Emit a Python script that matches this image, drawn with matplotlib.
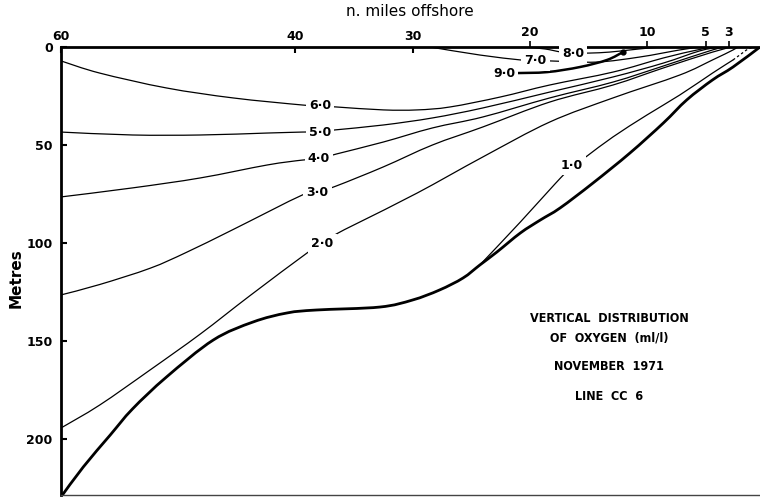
import matplotlib
matplotlib.use("Agg")
import matplotlib.pyplot as plt
from matplotlib.path import Path
from matplotlib.patches import PathPatch

# Section axes: distance offshore (n. miles) and depth (metres)
mile_ticks = [60, 40, 30, 20, 10, 5, 3]
depth_ticks = [0, 50, 100, 150, 200]

# Sea floor profile along the line
bottom_miles = [60.0, 58.1, 55.8, 53.9, 51.0, 47.0, 43.6, 40.7, 38.2, 32.8, 30.0,
                27.7, 25.7, 24.25, 22.8, 20.8, 19.1, 17.4, 14.6, 11.45, 8.6, 6.6, 4.4,
                2.65, 0.35]
bottom_depth = [229.6, 214.3, 198.0, 184.7, 168.4, 149.5, 140.3, 135.7, 134.2, 132.7,
                129.1, 124.0, 117.9, 111.2, 104.6, 94.9, 88.3, 82.1, 69.4, 54.1, 38.8,
                27.0, 16.8, 10.2, 0.0]

# Oxygen isopleths (ml/l)
o2_60_miles = [60.0, 56.7, 51.0, 45.3, 39.4, 37.9, 36.5, 32.5, 29.6, 26.8, 22.5, 18.3, 12.9, 8.6, 5.7, 4.4]
o2_60_depth = [7.1, 13.3, 20.9, 26.0, 29.6, 30.1, 30.6, 32.1, 32.1, 30.6, 25.5, 19.4, 12.8, 5.6, 1.5, 0.0]

o2_50_miles = [60.0, 53.9, 48.1, 42.4, 39.4, 37.9, 36.6, 32.5, 28.3, 24.0, 18.3, 12.9, 8.6, 5.5, 3.8]
o2_50_depth = [43.4, 44.9, 44.9, 43.9, 43.4, 43.2, 42.3, 39.8, 36.2, 31.1, 23.0, 15.3, 8.2, 2.0, 0.0]

o2_40_miles = [60.0, 53.9, 48.1, 42.4, 39.4, 38.0, 36.5, 32.5, 28.3, 24.0, 18.3, 12.9, 8.6, 4.4, 3.2]
o2_40_depth = [76.5, 71.9, 66.8, 60.2, 57.7, 57.1, 54.6, 48.5, 41.3, 35.7, 26.0, 17.9, 9.7, 1.5, 0.0]

o2_30_miles = [60.0, 56.7, 52.4, 49.3, 45.3, 39.4, 38.1, 36.5, 32.5, 28.3, 24.0, 18.3, 12.9, 8.6, 4.4, 2.75]
o2_30_depth = [126.5, 121.2, 112.9, 104.8, 93.1, 75.5, 74.0, 70.9, 61.2, 50.0, 40.8, 28.1, 19.4, 10.7, 2.6, 0.0]

o2_20_miles = [60.0, 56.7, 52.4, 48.1, 43.9, 39.0, 37.7, 36.5, 34.5, 29.6, 24.0, 18.3, 12.9, 7.2, 4.4, 2.65, 2.25]
o2_20_depth = [194.4, 182.7, 164.8, 146.4, 127.0, 105.1, 100.2, 95.4, 89.3, 74.5, 56.1, 38.3, 26.0, 14.3, 6.6, 1.5, 0.0]

o2_10_miles = [24.25, 20.8, 17.85, 16.5, 15.1, 12.9, 10.0, 7.2, 4.4, 2.65]
o2_10_depth = [111.2, 89.3, 69.9, 61.7, 55.6, 45.9, 34.7, 24.5, 13.3, 6.6]
o2_10_shore_miles = [2.65, 1.5, 0.95]
o2_10_shore_depth = [6.6, 1.5, 0.0]

o2_70_miles = [28.5, 24.25, 20.8, 19.5, 18.3, 14.3, 10.6, 7.2, 5.5]
o2_70_depth = [0.0, 4.1, 6.6, 7.1, 7.1, 7.7, 5.1, 1.5, 0.0]

o2_80_miles = [20.4, 18.7, 17.3, 16.3, 14.9, 13.2, 11.45, 9.8, 8.5]
o2_80_depth = [0.0, 1.0, 2.6, 3.1, 3.1, 2.6, 1.5, 0.5, 0.0]

o2_90_miles = [21.1, 18.5, 15.7, 13.4, 12.05]
o2_90_depth = [13.3, 12.8, 10.2, 6.6, 2.6]

iso_labels = ["6·0", "5·0", "4·0", "3·0", "2·0", "1·0", "7·0", "8·0", "9·0"]
iso_label_miles = [37.9, 37.9, 38.0, 38.1, 37.7, 16.4, 19.5, 16.3, 22.2]
iso_label_depth = [30.1, 43.4, 57.1, 74.0, 100.2, 60.5, 7.1, 3.1, 13.3]

title_lines = ["VERTICAL  DISTRIBUTION", "OF  OXYGEN  (ml/l)", "NOVEMBER  1971", "LINE  CC  6"]


def smooth_path(xs, ys):
    """Catmull-Rom curve through the given points, as cubic Bezier path segments."""
    pts = list(zip(xs, ys))
    n = len(pts)
    verts = [pts[0]]
    codes = [Path.MOVETO]
    for i in range(n - 1):
        p0 = pts[i - 1] if i > 0 else pts[i]
        p1 = pts[i]
        p2 = pts[i + 1]
        p3 = pts[i + 2] if i + 2 < n else pts[i + 1]
        c1 = (p1[0] + (p2[0] - p0[0]) / 6.0, p1[1] + (p2[1] - p0[1]) / 6.0)
        c2 = (p2[0] - (p3[0] - p1[0]) / 6.0, p2[1] - (p3[1] - p1[1]) / 6.0)
        verts += [c1, c2, p2]
        codes += [Path.CURVE4] * 3
    return Path(verts, codes)


def draw_curve(ax, xs, ys, **kw):
    patch = PathPatch(smooth_path(xs, ys), fill=False, capstyle="round",
                      joinstyle="round", **kw)
    ax.add_patch(patch)
    return patch


fig = plt.figure(figsize=(7.6, 4.97), dpi=100)
ax = fig.add_axes([61 / 760, 2 / 497, 699 / 760, 448 / 497])
ax.set_xlim(60, 0.35)
ax.set_ylim(228.6, 0)

for xs, ys in [(o2_60_miles, o2_60_depth), (o2_50_miles, o2_50_depth),
               (o2_40_miles, o2_40_depth), (o2_30_miles, o2_30_depth),
               (o2_20_miles, o2_20_depth), (o2_10_miles, o2_10_depth),
               (o2_70_miles, o2_70_depth), (o2_80_miles, o2_80_depth)]:
    draw_curve(ax, xs, ys, edgecolor="black", lw=0.9)
ax.plot(o2_10_shore_miles, o2_10_shore_depth, color="black", lw=0.9, ls=(0, (2, 2)))
draw_curve(ax, o2_90_miles, o2_90_depth, edgecolor="black", lw=1.8)
ax.plot(o2_90_miles[-1:], o2_90_depth[-1:], marker="o", ms=3.5, color="black")
draw_curve(ax, bottom_miles, bottom_depth, edgecolor="black", lw=2.0)

for txt, xm, yd in zip(iso_labels, iso_label_miles, iso_label_depth):
    ax.text(xm, yd, txt, ha="center", va="center", fontsize=9, fontweight="bold",
            bbox=dict(boxstyle="square,pad=0.25", fc="white", ec="none"), zorder=5)

# Axis styling
ax.spines["right"].set_visible(False)
ax.spines["top"].set_linewidth(2.0)
ax.spines["left"].set_linewidth(2.0)
ax.spines["bottom"].set_linewidth(1.0)
ax.spines["bottom"].set_color("#444444")

ax.xaxis.set_ticks_position("top")
ax.xaxis.set_label_position("top")
ax.set_xticks([m for m in mile_ticks if m >= 30])
ax.set_xticklabels([str(m) for m in mile_ticks if m >= 30])
ax.set_xticks([m for m in mile_ticks if m < 30], minor=True)
ax.set_xticklabels([str(m) for m in mile_ticks if m < 30], minor=True)
ax.tick_params(axis="x", which="major", direction="in", length=4.5, width=1.5, pad=3,
               labelsize=9)
ax.tick_params(axis="x", which="minor", direction="out", length=4, width=1.2, pad=1.5,
               labelsize=9)
for lab in ax.get_xticklabels(which="both"):
    lab.set_fontweight("bold")

ax.set_yticks(depth_ticks)
ax.set_yticklabels([str(d) for d in depth_ticks])
ax.tick_params(axis="y", direction="in", length=4.5, width=1.5, pad=6, labelsize=9)
for lab in ax.get_yticklabels():
    lab.set_fontweight("bold")

fig.text(410 / 760, 1 - 12 / 497, "n. miles offshore", ha="center", va="center",
         fontsize=11)
fig.text(16 / 760, 1 - 278 / 497, "Metres", ha="center", va="center", rotation=90,
         fontsize=11, fontweight="bold")

for txt, ypx in zip(title_lines, [318, 338, 367, 396]):
    fig.text(609 / 760, 1 - ypx / 497, txt, ha="center", va="center", fontsize=9,
             fontweight="bold", fontstretch="condensed")

fig.savefig("out.png", dpi=100, facecolor="white")
